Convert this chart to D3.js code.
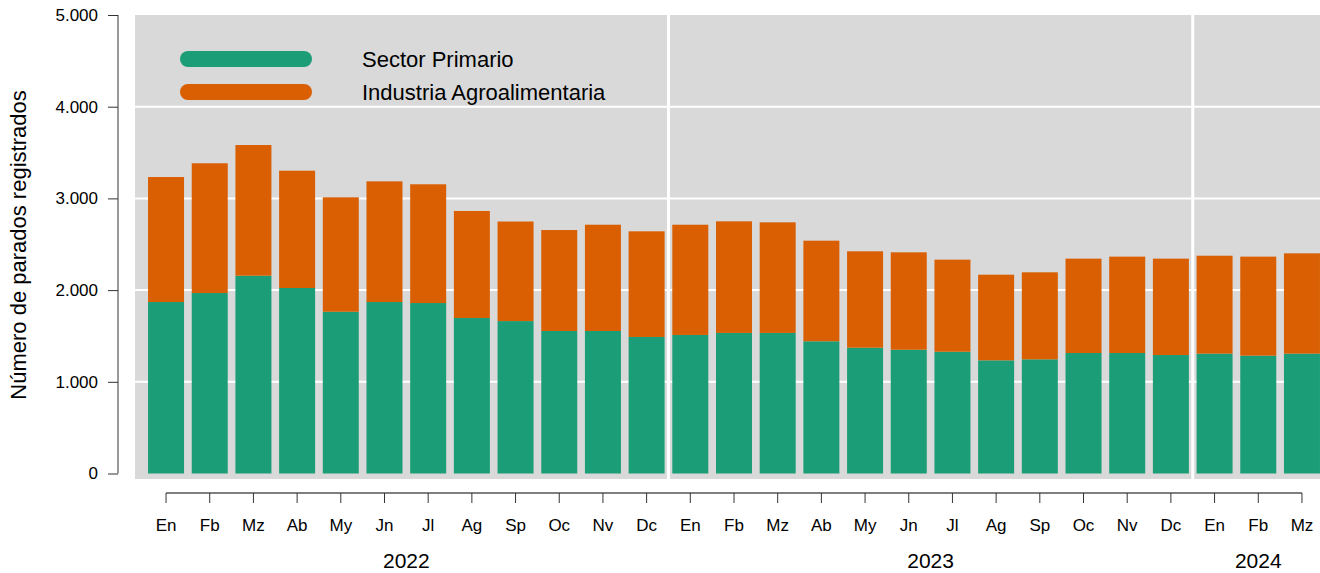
<!DOCTYPE html>
<html>
<head>
<meta charset="utf-8">
<script src="https://cdn.jsdelivr.net/npm/d3@7"></script>
<style>
  body { margin: 0; background: #fff; }
  text { font-family: "Liberation Sans", Arial, sans-serif; fill: #000; }
</style>
</head>
<body>
<div id="chart"></div>
<script>
const months = ["En", "Fb", "Mz", "Ab", "My", "Jn", "Jl", "Ag", "Sp", "Oc", "Nv", "Dc",
                "En", "Fb", "Mz", "Ab", "My", "Jn", "Jl", "Ag", "Sp", "Oc", "Nv", "Dc",
                "En", "Fb", "Mz"];
const years = [2022, 2022, 2022, 2022, 2022, 2022, 2022, 2022, 2022, 2022, 2022, 2022,
               2023, 2023, 2023, 2023, 2023, 2023, 2023, 2023, 2023, 2023, 2023, 2023,
               2024, 2024, 2024];
const sectorPrimario = [1870, 1968, 2157, 2023, 1764, 1870, 1859, 1696, 1662, 1554, 1554, 1489,
                        1511, 1533, 1533, 1442, 1372, 1350, 1328, 1234, 1245, 1314, 1314, 1292,
                        1307, 1285, 1307];
const industriaAgro = [1363, 1415, 1425, 1279, 1248, 1316, 1295, 1167, 1086, 1101, 1159, 1152,
                       1202, 1217, 1206, 1097, 1051, 1062, 1004, 934, 949, 1029, 1051, 1051,
                       1068, 1080, 1094];
const seriesNames = ["Sector Primario", "Industria Agroalimentaria"];
const seriesColors = ["#1b9e77", "#d95f02"];
const yTicks = [0, 1000, 2000, 3000, 4000, 5000];

const width = 1320, height = 573;
const panel = { left: 135, right: 1320, top: 15, bottom: 479 };

const table = months.map((m, i) => ({
    key: i, month: m, year: years[i],
    "Sector Primario": sectorPrimario[i],
    "Industria Agroalimentaria": industriaAgro[i]
}));

const x = d3.scaleBand()
    .domain(table.map(d => d.key))
    .range([144.2, 1323.8])
    .paddingInner(0.176)
    .paddingOuter(0.088);
const y = d3.scaleLinear().domain([0, 5000]).range([473.5, 15]);
const color = d3.scaleOrdinal().domain(seriesNames).range(seriesColors);

const es = d3.formatLocale({ decimal: ",", thousands: ".", grouping: [3], currency: ["", " €"] });
const fmt = es.format(",");

const svg = d3.select("#chart")
    .append("svg")
    .attr("width", width)
    .attr("height", height);

// panel background
svg.append("rect")
    .attr("x", panel.left)
    .attr("y", panel.top)
    .attr("width", panel.right - panel.left)
    .attr("height", panel.bottom - panel.top)
    .attr("fill", "#d9d9d9");

// horizontal grid
svg.selectAll(".hgrid")
    .data(yTicks.filter(t => t > 0 && t < 5000))
    .join("line")
    .attr("class", "hgrid")
    .attr("x1", panel.left)
    .attr("x2", panel.right)
    .attr("y1", d => y(d))
    .attr("y2", d => y(d))
    .attr("stroke", "#fff")
    .attr("stroke-width", 2);

// year separators
const yearList = [...new Set(years)];
const separators = yearList.slice(1).map(yr => {
    const i = years.indexOf(yr);
    return (x(i - 1) + x.bandwidth() + x(i)) / 2;
});
svg.selectAll(".vgrid")
    .data(separators)
    .join("line")
    .attr("class", "vgrid")
    .attr("x1", d => d)
    .attr("x2", d => d)
    .attr("y1", panel.top)
    .attr("y2", panel.bottom)
    .attr("stroke", "#fff")
    .attr("stroke-width", 3);

// stacked bars
const stack = d3.stack().keys(seriesNames);
const layers = stack(table);

svg.selectAll(".layer")
    .data(layers)
    .join("g")
    .attr("class", "layer")
    .attr("fill", d => color(d.key))
    .selectAll("rect")
    .data(d => d)
    .join("rect")
    .attr("x", d => x(d.data.key))
    .attr("y", d => y(d[1]))
    .attr("width", x.bandwidth())
    .attr("height", d => y(d[0]) - y(d[1]));

// y axis
const yAxis = d3.axisLeft(y).tickValues(yTicks).tickFormat(fmt).tickSize(10).tickPadding(10);
const gy = svg.append("g")
    .attr("transform", "translate(118,0)")
    .call(yAxis);
gy.select(".domain").attr("stroke", "#333").attr("d", `M0,${y(5000)}V${y(0)}`);
gy.selectAll(".tick line").attr("stroke", "#333");
gy.selectAll(".tick text").attr("font-size", 17).attr("fill", "#111");

// x axis
const xAxis = d3.axisBottom(x).tickFormat(i => months[i]).tickSize(10).tickPadding(16);
const gx = svg.append("g")
    .attr("transform", "translate(0,493)")
    .call(xAxis);
const x0 = x(0) + x.bandwidth() / 2, x1 = x(months.length - 1) + x.bandwidth() / 2;
gx.select(".domain").attr("stroke", "#000").attr("d", `M${x0},0H${x1}`);
gx.selectAll(".tick line").attr("stroke", "#333");
gx.selectAll(".tick text").attr("font-size", 17).attr("fill", "#111");

// year labels
svg.selectAll(".year")
    .data(yearList)
    .join("text")
    .attr("class", "year")
    .attr("x", yr => d3.mean(table.filter(d => d.year === yr), d => x(d.key) + x.bandwidth() / 2))
    .attr("y", 568)
    .attr("text-anchor", "middle")
    .attr("font-size", 21)
    .text(d => d);

// y title
svg.append("text")
    .attr("transform", "translate(26,245) rotate(-90)")
    .attr("text-anchor", "middle")
    .attr("font-size", 22)
    .text("Número de parados registrados");

// legend
const legend = svg.selectAll(".legend")
    .data(seriesNames)
    .join("g")
    .attr("class", "legend")
    .attr("transform", (d, i) => `translate(0,${59 + i * 33})`);
legend.append("line")
    .attr("x1", 188)
    .attr("x2", 304)
    .attr("stroke", d => color(d))
    .attr("stroke-width", 16)
    .attr("stroke-linecap", "round");
legend.append("text")
    .attr("x", 362)
    .attr("y", 8)
    .attr("font-size", 22)
    .text(d => d);
</script>
</body>
</html>
